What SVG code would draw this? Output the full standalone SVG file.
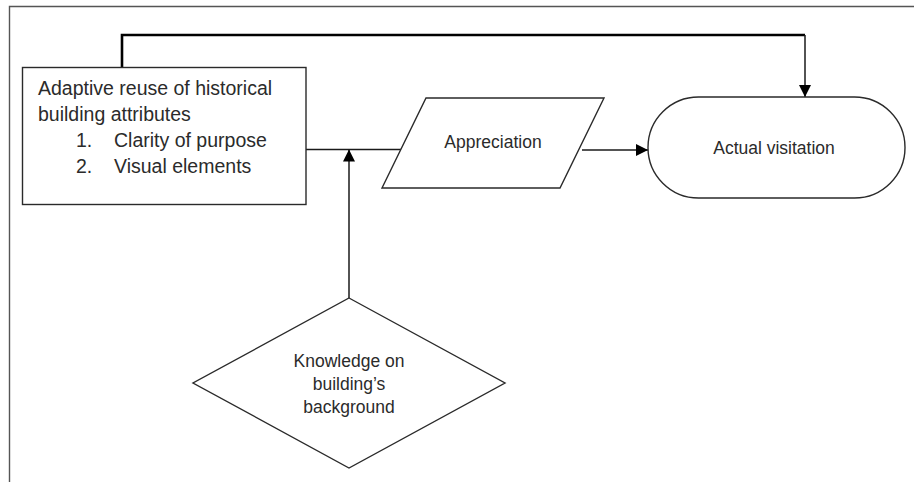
<svg xmlns="http://www.w3.org/2000/svg" width="914" height="482" viewBox="0 0 914 482">
<style>
  .shape { fill: #ffffff; stroke: #2a2a2a; stroke-width: 1.4; }
  .t { font-family: "Liberation Sans", Arial, sans-serif; fill: #2b2b2b; }
  .big { font-size: 19.5px; }
  .small { font-size: 17.5px; text-anchor: middle; }
  .conn { fill: none; stroke: #1a1a1a; stroke-width: 1.5; }
  .thick { fill: none; stroke: #000000; stroke-width: 2.6; }
</style>
<defs>
  <marker id="arrow" markerWidth="12" markerHeight="12" viewBox="0 0 12 12" refX="12" refY="6" orient="auto" markerUnits="userSpaceOnUse">
    <path d="M0,0 L12,6 L0,12 Z" fill="#000000"/>
  </marker>
</defs>
<rect width="914" height="482" fill="#ffffff"/>
<g id="frame">
  <path d="M9.5,482 V6.5 H914" fill="none" stroke="#555555" stroke-width="1.4"/>
</g>
<g id="connectors">
  <path class="thick" d="M122,67.5 V35 H805"/>
  <path class="conn" d="M805,35 V97" marker-end="url(#arrow)"/>
  <path class="conn" d="M306,149.5 H401"/>
  <path class="conn" d="M349,298 V149.5" marker-end="url(#arrow)"/>
  <path class="conn" d="M582,150 H648" marker-end="url(#arrow)"/>
</g>
<g id="node-attributes">
  <rect class="shape" x="22.5" y="67.5" width="283.5" height="137" stroke="#444444" stroke-width="1.6"/>
  <text class="t big" x="38" y="95">Adaptive reuse of historical</text>
  <text class="t big" x="38" y="121">building attributes</text>
  <text class="t big" x="76" y="147">1.</text>
  <text class="t big" x="114" y="147">Clarity of purpose</text>
  <text class="t big" x="76" y="173">2.</text>
  <text class="t big" x="114" y="173">Visual elements</text>
</g>
<g id="node-appreciation">
  <polygon class="shape" points="426,98 604,98 560,188 382,188"/>
  <text class="t small" x="493" y="148">Appreciation</text>
</g>
<g id="node-visitation">
  <rect class="shape" x="648" y="97" width="257" height="101" rx="50.5" ry="50.5"/>
  <text class="t small" x="774" y="154">Actual visitation</text>
</g>
<g id="node-knowledge">
  <polygon class="shape" points="349,298 505,383 349,468 193,383"/>
  <text class="t small" x="349" y="367">Knowledge on</text>
  <text class="t small" x="349" y="390">building’s</text>
  <text class="t small" x="349" y="413">background</text>
</g>
</svg>
